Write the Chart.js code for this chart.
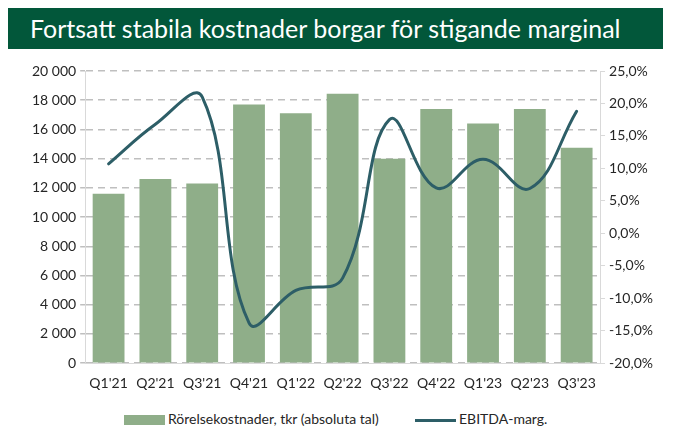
<!DOCTYPE html>
<html>
<head>
<meta charset="utf-8">
<script src="https://cdn.jsdelivr.net/npm/chart.js@4.4.0/dist/chart.umd.min.js"></script>
<style>
  html, body { margin: 0; padding: 0; background: #fff; }
  body { width: 674px; height: 427px; position: relative; overflow: hidden; font-family: Lato, "Open Sans", sans-serif; }
  #title {
    position: absolute; left: 8px; top: 8px; width: 655px; height: 41px;
    background: #02573a; color: #fff; font-size: 25px; line-height: 41px;
    padding-left: 22px; box-sizing: border-box; white-space: nowrap;
  }
  #wrap { position: absolute; left: 0; top: 52px; width: 674px; height: 352px; }
  #legend {
    position: absolute; top: 410px; left: 0; width: 674px; font-size: 14px; color: #262626;
  }
  .item { position: absolute; top: 0; white-space: nowrap; }
  .swatch { display: inline-block; vertical-align: middle; margin-right: 3px; }
</style>
</head>
<body>
<div id="title">Fortsatt stabila kostnader borgar för stigande marginal</div>
<div id="wrap"><canvas id="chart"></canvas></div>
<div id="legend">
  <div class="item" style="left:124px"><span class="swatch" style="width:41px;height:10px;background:#8fae89"></span>Rörelsekostnader, tkr (absoluta tal)</div>
  <div class="item" style="left:415px"><span class="swatch" style="width:41px;height:3px;background:#2d5e67"></span>EBITDA-marg.</div>
</div>
<script>
const quarters = ["Q1'21", "Q2'21", "Q3'21", "Q4'21", "Q1'22", "Q2'22", "Q3'22", "Q4'22", "Q1'23", "Q2'23", "Q3'23"];
const costs = [11600, 12600, 12300, 17700, 17100, 18450, 14000, 17400, 16400, 17400, 14750];
const ebitdaMargin = [10.7, 16.8, 21.0, -13.8, -8.8, -6.9, 17.5, 7.0, 11.4, 6.9, 18.8];

const fmtThousands = v => String(v).replace(/\B(?=(\d{3})+(?!\d))/g, ' ');
const fmtPct = v => v.toFixed(1).replace('.', ',') + '%';

const ctx = document.getElementById('chart').getContext('2d');
new Chart(ctx, {
    type: 'bar',
    data: {
        labels: quarters,
        datasets: [
            {
                type: 'line',
                label: 'EBITDA-marg.',
                data: ebitdaMargin,
                yAxisID: 'y1',
                borderColor: '#2d5e67',
                backgroundColor: '#2d5e67',
                borderWidth: 3,
                pointRadius: 0,
                tension: 0.4,
                borderCapStyle: 'round',
                order: 0,
            },
            {
                label: 'Rörelsekostnader, tkr (absoluta tal)',
                data: costs,
                yAxisID: 'y',
                backgroundColor: '#8fae89',
                categoryPercentage: 1,
                barPercentage: 0.68,
                order: 1,
            },
        ]
    },
    options: {
        responsive: true,
        maintainAspectRatio: false,
        animation: false,
        layout: { padding: { left: 28, right: 17, top: 19, bottom: 0 } },
        plugins: {
            legend: { display: false },
            tooltip: { enabled: false },
        },
        scales: {
            x: {
                grid: { display: false, drawTicks: false },
                border: { color: '#d9d9d9', width: 1 },
                ticks: { color: '#262626', font: { family: 'Lato', size: 14 }, padding: 12, maxRotation: 0 },
            },
            y: {
                position: 'left',
                min: 0,
                max: 20000,
                grid: {
                    color: '#bfbfbf',
                    lineWidth: 1.5,
                    tickColor: '#bfbfbf',
                    tickLength: 5,
                    tickBorderDash: [],
                },
                border: { color: '#d9d9d9', width: 1, dash: [7, 5] },
                ticks: {
                    stepSize: 2000,
                    color: '#262626',
                    font: { family: 'Lato', size: 14 },
                    padding: 4,
                    callback: v => fmtThousands(v),
                },
            },
            y1: {
                position: 'right',
                min: -20,
                max: 25,
                grid: { drawOnChartArea: false, color: '#d9d9d9', tickLength: 5 },
                border: { color: '#d9d9d9', width: 1 },
                ticks: {
                    stepSize: 5,
                    color: '#262626',
                    font: { family: 'Lato', size: 14 },
                    padding: 4,
                    callback: v => fmtPct(v),
                },
            },
        }
    }
});
</script>
</body>
</html>
